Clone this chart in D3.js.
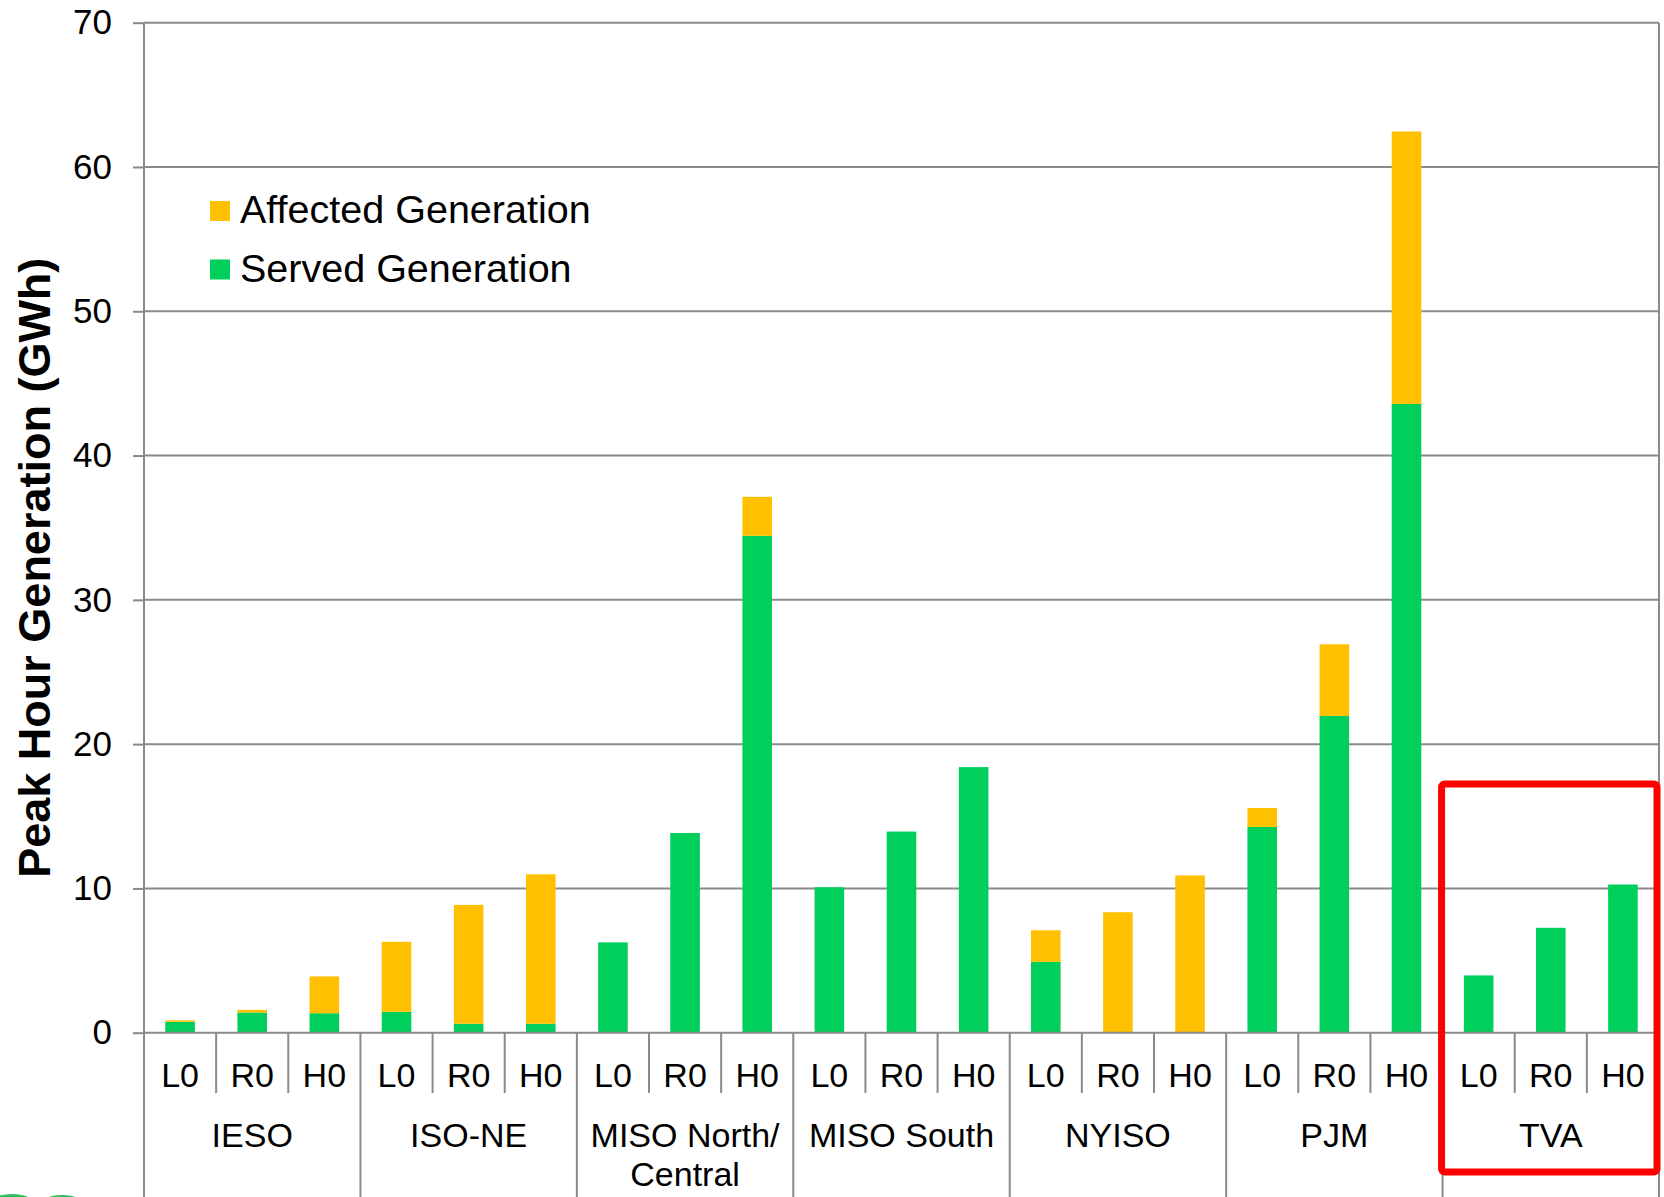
<!DOCTYPE html>
<html>
<head>
<meta charset="utf-8">
<script src="https://cdn.jsdelivr.net/npm/d3@7"></script>
<style>
  html, body { margin: 0; padding: 0; background: #fff; }
  svg { display: block; }
  text { font-family: "Liberation Sans", Arial, sans-serif; fill: #000; }
</style>
</head>
<body>
<div id="chart"></div>
<script>
// Regions (second line of a label after "\n")
const groups = ["IESO", "ISO-NE", "MISO North/\nCentral", "MISO South", "NYISO", "PJM", "TVA"];
const scenarios = ["L0", "R0", "H0"];

// Peak hour generation (GWh), in order group by group, L0/R0/H0
const served = [
  0.75, 1.40, 1.35,
  1.45, 0.62, 0.62,
  6.26, 13.84, 34.44,
  10.08, 13.94, 18.41,
  4.91, 0, 0,
  14.26, 21.95, 43.58,
  3.97, 7.27, 10.27
];
const affected = [
  0.10, 0.18, 2.55,
  4.85, 8.24, 10.36,
  0, 0, 2.70,
  0, 0, 0,
  2.19, 8.35, 10.90,
  1.31, 4.97, 18.88,
  0, 0, 0
];

const yTicks = [0, 10, 20, 30, 40, 50, 60, 70];
const seriesNames = ["Affected Generation", "Served Generation"];
const seriesColors = ["#ffc000", "#00cf5c"];
const highlightGroup = "TVA";

const W = 1664, H = 1197;
const margin = { top: 22.7, left: 144, right: 5, bottomAxis: 1032.7 };
const gridColor = "#8a8a8a";

const svg = d3.select("#chart").append("svg")
    .attr("width", W)
    .attr("height", H);

// scales
const x0 = d3.scaleBand()
    .domain(groups)
    .range([margin.left, W - margin.right])
    .padding(0);

const x1 = d3.scaleBand()
    .domain(scenarios)
    .range([0, x0.bandwidth()])
    .paddingInner(0.59)
    .paddingOuter(0.295);

const y = d3.scaleLinear()
    .domain([0, 70])
    .range([margin.bottomAxis, margin.top]);

// rows of data
const rows = [];
groups.forEach((g, gi) => {
    scenarios.forEach((s, si) => {
        const i = gi * 3 + si;
        rows.push({ group: g, scenario: s, served: served[i], affected: affected[i] });
    });
});

// gridlines
svg.append("g")
    .selectAll("line")
    .data(yTicks.filter(d => d > 0))
    .join("line")
    .attr("x1", margin.left)
    .attr("x2", W - margin.right)
    .attr("y1", d => y(d))
    .attr("y2", d => y(d))
    .attr("stroke", gridColor)
    .attr("stroke-width", 2);

// right border of plot area
svg.append("line")
    .attr("x1", W - margin.right).attr("x2", W - margin.right)
    .attr("y1", y(70)).attr("y2", y(0))
    .attr("stroke", gridColor).attr("stroke-width", 2);

// y axis
const yAxis = d3.axisLeft(y)
    .tickValues(yTicks)
    .tickSize(11)
    .tickPadding(21);

const yg = svg.append("g")
    .attr("transform", `translate(${margin.left},0)`)
    .call(yAxis);
yg.select(".domain").remove();
yg.selectAll(".tick line").attr("stroke", gridColor).attr("stroke-width", 2);
yg.selectAll(".tick text")
    .style("font-family", '"Liberation Sans", Arial, sans-serif')
    .style("font-size", "35px")
    .attr("fill", "#000");

// vertical axis line, running down past the category labels
svg.append("line")
    .attr("x1", margin.left).attr("x2", margin.left)
    .attr("y1", y(70)).attr("y2", H)
    .attr("stroke", gridColor).attr("stroke-width", 2);

// stacked bars
const barG = svg.append("g");
barG.selectAll("rect.served")
    .data(rows)
    .join("rect")
    .attr("class", "served")
    .attr("x", d => x0(d.group) + x1(d.scenario))
    .attr("width", x1.bandwidth())
    .attr("y", d => y(d.served))
    .attr("height", d => y(0) - y(d.served))
    .attr("fill", seriesColors[1]);

barG.selectAll("rect.affected")
    .data(rows.filter(d => d.affected > 0))
    .join("rect")
    .attr("class", "affected")
    .attr("x", d => x0(d.group) + x1(d.scenario))
    .attr("width", x1.bandwidth())
    .attr("y", d => y(d.served + d.affected))
    .attr("height", d => y(d.served) - y(d.served + d.affected))
    .attr("fill", seriesColors[0]);

// category axis baseline
svg.append("line")
    .attr("x1", margin.left).attr("x2", W - margin.right)
    .attr("y1", y(0)).attr("y2", y(0))
    .attr("stroke", gridColor).attr("stroke-width", 2);

// category axis: scenario separators and labels
const catG = svg.append("g");
groups.forEach(g => {
    scenarios.forEach((s, si) => {
        if (si > 0) {
            const sx = x0(g) + x1.step() * si;
            catG.append("line")
                .attr("x1", sx).attr("x2", sx)
                .attr("y1", y(0)).attr("y2", 1093)
                .attr("stroke", gridColor).attr("stroke-width", 2);
        }
        catG.append("text")
            .attr("x", x0(g) + x1(s) + x1.bandwidth() / 2)
            .attr("y", 1086.5)
            .attr("text-anchor", "middle")
            .style("font-size", "34px")
            .text(s);
    });
});

// group separators (both ends included)
const sepX = groups.map(g => x0(g)).concat([x0.range()[1]]);
catG.selectAll("line.sep")
    .data(sepX)
    .join("line")
    .attr("class", "sep")
    .attr("x1", d => d).attr("x2", d => d)
    .attr("y1", y(0)).attr("y2", H)
    .attr("stroke", gridColor).attr("stroke-width", 2);

// group labels
groups.forEach(g => {
    const t = catG.append("text")
        .attr("x", x0(g) + x0.bandwidth() / 2)
        .attr("y", 1147)
        .attr("text-anchor", "middle")
        .style("font-size", "34px");
    g.split("\n").forEach((line, li) => {
        t.append("tspan")
            .attr("x", x0(g) + x0.bandwidth() / 2)
            .attr("dy", li === 0 ? 0 : 39)
            .text(line);
    });
});

// y axis title
svg.append("text")
    .attr("transform", `translate(50,${(y(70) + y(0)) / 2 + 40}) rotate(-90)`)
    .attr("text-anchor", "middle")
    .style("font-size", "45px")
    .style("font-weight", "bold")
    .text("Peak Hour Generation (GWh)");

// legend
const legend = svg.append("g").attr("transform", "translate(210,201)");
seriesNames.forEach((name, i) => {
    const row = legend.append("g").attr("transform", `translate(0,${i * 58.5})`);
    row.append("rect")
        .attr("width", 20).attr("height", 20)
        .attr("fill", seriesColors[i]);
    row.append("text")
        .attr("x", 30)
        .attr("y", 22)
        .style("font-size", "39.5px")
        .text(name);
});

// red highlight box around TVA
svg.append("rect")
    .attr("x", x0(highlightGroup) - 1)
    .attr("y", 784)
    .attr("width", x0.bandwidth() - 1)
    .attr("height", 388)
    .attr("rx", 3)
    .attr("fill", "none")
    .attr("stroke", "#ff0000")
    .attr("stroke-width", 7);

// fragment of a logo clipped at the bottom-left edge
const logo = svg.append("g");
logo.append("ellipse")
    .attr("cx", 12).attr("cy", 1203).attr("rx", 22).attr("ry", 9)
    .attr("fill", "#2fbf5a");
logo.append("ellipse")
    .attr("cx", 62).attr("cy", 1205).attr("rx", 22).attr("ry", 10)
    .attr("fill", "#2fbf5a");
</script>
</body>
</html>
